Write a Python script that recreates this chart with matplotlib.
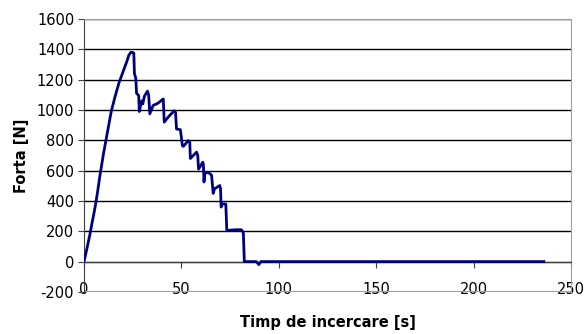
import numpy as np
import matplotlib.pyplot as plt

# Force measured during the test
time_s = [0, 1, 2, 3, 4, 5, 6, 7, 8, 9, 10, 11, 12, 13, 14, 15, 16, 17, 18, 19,
          20, 21, 22, 23, 24, 25, 25.6, 25.9, 26.6, 27.0, 28.1, 28.4, 29.6, 30.2,
          31.0, 32.6, 33.2, 33.8, 35.5, 38.0, 40.7, 41.2, 43.0, 46.3, 47.0, 47.5,
          49.5, 50.5, 51.0, 53.5, 54.3, 54.6, 57.8, 58.4, 58.8, 61.0, 61.3, 61.6,
          62.0, 63.7, 65.5, 66.3, 67.0, 69.7, 70.1, 70.4, 71.0, 72.8, 73.3, 78.0,
          80.8, 81.8, 82.3, 88.5, 89.7, 90.8, 236]
forta_n = [0, 55, 115, 175, 245, 310, 380, 460, 550, 630, 710, 780, 850, 920, 990,
           1040, 1090, 1135, 1180, 1215, 1250, 1285, 1320, 1360, 1380, 1380, 1375,
           1240, 1210, 1110, 1095, 990, 1060, 1040, 1090, 1125, 1100, 975, 1030,
           1045, 1073, 920, 950, 995, 985, 875, 870, 765, 760, 798, 790, 680, 722,
           700, 610, 656, 640, 525, 580, 590, 570, 450, 480, 502, 480, 360, 380,
           380, 206, 210, 210, 190, 0, 0, -20, 0, 0]

plt.rcParams['font.family'] = 'DejaVu Sans'
plt.rcParams['axes.unicode_minus'] = False
fig = plt.figure(figsize=(5.87, 3.34), dpi=100)
ax = fig.add_axes([0.143, 0.126, 0.83, 0.817])

ax.plot(time_s, forta_n, color='#000080', linewidth=2.0, zorder=3)

ax.set_xlim(0, 250)
ax.set_ylim(-200, 1600)
ax.set_xticks(np.arange(0, 251, 50))
ax.set_yticks(np.arange(-200, 1601, 200))

# horizontal grid, Excel style
ax.yaxis.grid(True, color='black', linewidth=1.0)
ax.set_axisbelow(True)

# x axis crosses at zero, plot area border in grey
ax.spines['bottom'].set_position(('data', 0))
ax.spines['bottom'].set_color('#404040')
ax.spines['left'].set_color('#404040')
for s in ['top', 'right']:
    ax.spines[s].set_color('#a0a0a0')
ax.axhline(-200, color='#a0a0a0', linewidth=1.5, zorder=2)

ax.tick_params(axis='x', direction='out', length=4, pad=11, labelsize=10.5,
               color='#404040')
ax.tick_params(axis='y', direction='out', length=4, pad=3, labelsize=10.5,
               color='#404040')

ax.set_xlabel('Timp de incercare [s]', fontsize=10.5, fontweight='bold')
ax.set_ylabel('Forta [N]', fontsize=10.5, fontweight='bold', labelpad=6)
ax.xaxis.set_label_coords(0.5, -0.085)

fig.savefig('out.png', dpi=100)
